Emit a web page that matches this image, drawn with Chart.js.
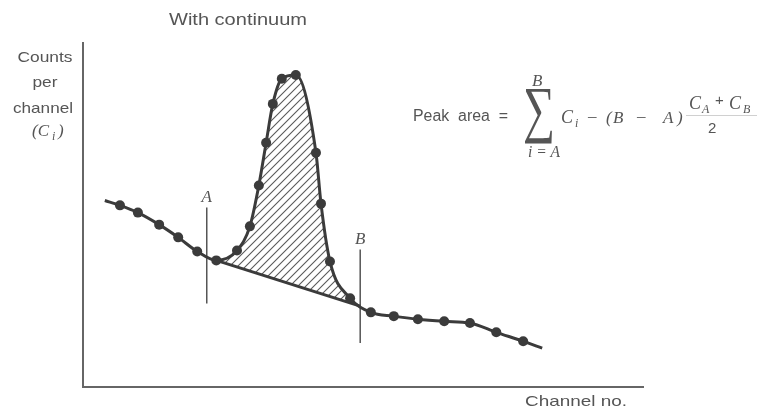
<!DOCTYPE html>
<html>
<head>
<meta charset="utf-8">
<script src="https://cdn.jsdelivr.net/npm/chart.js@4"></script>
<style>
  html, body { margin: 0; padding: 0; background: #fff; }
  #wrap { width: 762px; height: 410px; }
</style>
</head>
<body>
<div id="wrap"><canvas id="chart" width="762" height="410"></canvas></div>
<script>
// channel numbers and counts (arbitrary units 0-100)
const channels = [3.9, 6.6, 9.8, 13.6, 17.0, 20.4, 23.8, 27.5, 29.8, 31.4, 32.7, 33.9, 35.5, 38.0,
                  41.6, 42.5, 44.1, 47.7, 51.4, 55.5, 59.8, 64.5, 69.1, 73.8, 78.6, 82.0];
const counts = [54.2, 52.8, 50.7, 47.2, 43.5, 39.4, 36.8, 39.7, 46.7, 58.6, 71.0, 82.3, 89.6, 90.7,
                68.1, 53.3, 36.5, 25.8, 21.7, 20.6, 19.7, 19.1, 18.6, 15.9, 13.3, 11.3];
// first and last entries are only curve ends, no dot
const hasDot = channels.map((c, i) => i > 0 && i < channels.length - 1);

// limits of the peak region
const chanA = 23.8, countA = 36.8;
const chanB = 49.5, countB = 23.5;
const markerA = { x: 22.1, y0: 24.3, y1: 52.2 };
const markerB = { x: 49.5, y0: 12.8, y1: 40.0 };

const ink = '#3b3b3b';
const textInk = '#555555';

const spectrum = channels.map((c, i) => ({ x: c, y: counts[i] }));
// part of the spectrum between A and B, used for the hatched area
const peakPart = spectrum.filter(p => p.x >= chanA && p.x < chanB);
peakPart.push({ x: chanB, y: countB });

function hatchPattern() {
    const size = 8;
    const c = document.createElement('canvas');
    c.width = size; c.height = size;
    const g = c.getContext('2d');
    g.strokeStyle = '#5a5a5a';
    g.lineWidth = 1.1;
    g.beginPath();
    g.moveTo(-1, size + 1); g.lineTo(size + 1, -1);
    g.moveTo(-1, 1); g.lineTo(1, -1);
    g.moveTo(size - 1, size + 1); g.lineTo(size + 1, size - 1);
    g.stroke();
    return g.createPattern(c, 'repeat');
}

// draw a string squeezed/stretched to a given width
function fitText(ctx, str, x, y, width, align) {
    const w = ctx.measureText(str).width;
    const k = width ? width / w : 1;
    ctx.save();
    let left = x;
    if (align === 'center') left = x - (width || w) / 2;
    if (align === 'right') left = x - (width || w);
    ctx.translate(left, y);
    ctx.scale(k, 1);
    ctx.textAlign = 'left';
    ctx.fillText(str, 0, 0);
    ctx.restore();
}

const sans = '"Liberation Sans", Arial, sans-serif';
const serif = '"Liberation Serif", "Times New Roman", serif';

const labelsPlugin = {
    id: 'labels',
    afterDraw(chart) {
        const ctx = chart.ctx;
        ctx.save();
        ctx.fillStyle = textInk;
        ctx.textBaseline = 'alphabetic';

        ctx.font = '16px ' + sans;
        fitText(ctx, 'With continuum', 169, 25, 138);

        // y axis title
        ctx.font = '15px ' + sans;
        fitText(ctx, 'Counts', 45, 62, 55, 'center');
        fitText(ctx, 'per', 45, 87, 25, 'center');
        fitText(ctx, 'channel', 43, 113, 60, 'center');
        ctx.font = 'italic 17px ' + serif;
        fitText(ctx, '(C', 32, 136);
        ctx.font = 'italic 12px ' + serif;
        fitText(ctx, 'i', 52, 140);
        ctx.font = 'italic 17px ' + serif;
        fitText(ctx, ')', 58, 136);

        // x axis title
        ctx.font = '15px ' + sans;
        fitText(ctx, 'Channel no.', 525, 406, 102);

        // formula
        ctx.font = '16px ' + sans;
        fitText(ctx, 'Peak  area  =', 413, 121, 95);
        ctx.font = '63px ' + serif;
        fitText(ctx, '\u2211', 523, 130, 32);
        ctx.font = 'italic 17px ' + serif;
        fitText(ctx, 'B', 532, 86);
        ctx.font = 'italic 16px ' + serif;
        fitText(ctx, 'i = A', 528, 157, 32);
        ctx.font = 'italic 18px ' + serif;
        fitText(ctx, 'C', 561, 123);
        ctx.font = 'italic 12px ' + serif;
        fitText(ctx, 'i', 575, 127);
        ctx.font = 'italic 17px ' + serif;
        fitText(ctx, '\u2013', 588, 121);
        fitText(ctx, '(', 606, 123);
        fitText(ctx, 'B', 613, 123);
        fitText(ctx, '\u2013', 637, 121);
        fitText(ctx, 'A', 663, 123);
        fitText(ctx, ')', 677, 123);
        ctx.font = 'italic 18px ' + serif;
        fitText(ctx, 'C', 689, 109);
        ctx.font = 'italic 12px ' + serif;
        fitText(ctx, 'A', 702, 113);
        ctx.font = '15px ' + sans;
        fitText(ctx, '+', 715, 105);
        ctx.font = 'italic 18px ' + serif;
        fitText(ctx, 'C', 729, 109);
        ctx.font = 'italic 12px ' + serif;
        fitText(ctx, 'B', 743, 113);
        ctx.font = '15px ' + sans;
        fitText(ctx, '2', 708, 133);
        ctx.strokeStyle = '#d0d0d0';
        ctx.lineWidth = 1;
        ctx.beginPath();
        ctx.moveTo(686, 115.5); ctx.lineTo(757, 115.5);
        ctx.stroke();

        // A and B markers
        const xs = chart.scales.x, ys = chart.scales.y;
        ctx.font = 'italic 17px ' + serif;
        fitText(ctx, 'A', xs.getPixelForValue(markerA.x), ys.getPixelForValue(markerA.y1) - 5, 0, 'center');
        fitText(ctx, 'B', xs.getPixelForValue(markerB.x), ys.getPixelForValue(markerB.y1) - 5, 0, 'center');
        ctx.restore();
    }
};

const ctx = document.getElementById('chart').getContext('2d');
new Chart(ctx, {
    type: 'line',
    data: {
        datasets: [
            {
                label: 'spectrum',
                data: spectrum,
                borderColor: ink,
                borderWidth: 3,
                cubicInterpolationMode: 'monotone',
                pointRadius: hasDot.map(d => d ? 5 : 0),
                pointBackgroundColor: ink,
                pointBorderWidth: 0,
                fill: false,
                order: 1
            },
            {
                label: 'peak area',
                data: peakPart,
                borderWidth: 0,
                borderColor: 'rgba(0,0,0,0)',
                cubicInterpolationMode: 'monotone',
                pointRadius: 0,
                backgroundColor: hatchPattern(),
                fill: { target: 2 },
                order: 5
            },
            {
                label: 'continuum',
                data: [{ x: chanA, y: countA }, { x: chanB, y: countB }],
                borderColor: ink,
                borderWidth: 3,
                tension: 0,
                pointRadius: 0,
                fill: false,
                order: 2
            },
            {
                label: 'A',
                data: [{ x: markerA.x, y: markerA.y0 }, { x: markerA.x, y: markerA.y1 }],
                borderColor: '#555',
                borderWidth: 1.5,
                pointRadius: 0,
                fill: false,
                order: 3
            },
            {
                label: 'B',
                data: [{ x: markerB.x, y: markerB.y0 }, { x: markerB.x, y: markerB.y1 }],
                borderColor: '#555',
                borderWidth: 1.5,
                pointRadius: 0,
                fill: false,
                order: 3
            }
        ]
    },
    options: {
        responsive: false,
        animation: false,
        layout: { padding: { left: 83, top: 43, right: 119, bottom: 23 } },
        scales: {
            x: {
                type: 'linear', min: 0, max: 100,
                grid: { display: false, drawTicks: false },
                ticks: { display: false },
                border: { display: true, color: '#666', width: 2 }
            },
            y: {
                type: 'linear', min: 0, max: 100,
                grid: { display: false, drawTicks: false },
                ticks: { display: false },
                border: { display: true, color: '#666', width: 2 }
            }
        },
        plugins: {
            legend: { display: false },
            tooltip: { enabled: false }
        }
    },
    plugins: [labelsPlugin]
});
</script>
</body>
</html>
